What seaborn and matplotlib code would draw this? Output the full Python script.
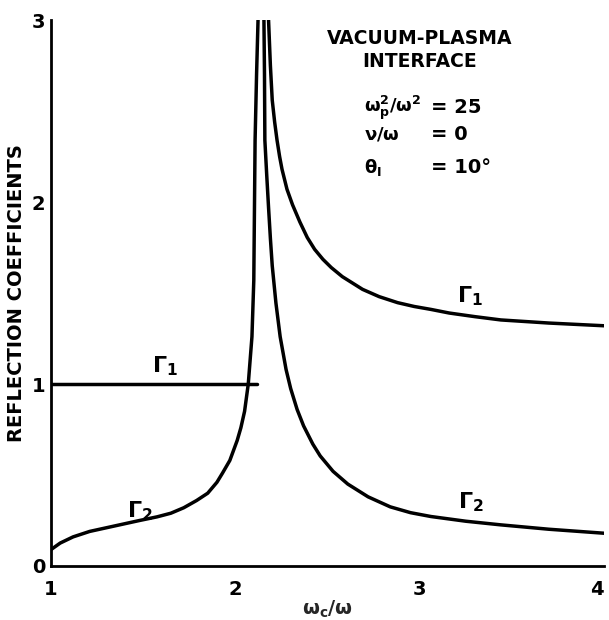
import matplotlib
matplotlib.use("Agg")
import matplotlib.pyplot as plt
import seaborn as sns
import pandas as pd

# ---- data ----
g1_flat_x = [1.0, 2.12]
g1_flat_y = [1.0, 1.0]

g2_left_x = [1.0, 1.05, 1.12, 1.21, 1.30, 1.39, 1.48, 1.575, 1.65, 1.72, 1.79, 1.85, 1.90,
             1.93, 1.97, 2.01, 2.03, 2.05, 2.07, 2.09, 2.10, 2.107, 2.115, 2.123]
g2_left_y = [0.09, 0.126, 0.16, 0.19, 0.21, 0.23, 0.25, 0.27, 0.29, 0.32, 0.36, 0.40, 0.46,
             0.51, 0.58, 0.69, 0.76, 0.85, 1.0, 1.26, 1.57, 2.34, 2.7, 3.0]

g2_right_x = [2.155, 2.158, 2.16, 2.17, 2.18, 2.19, 2.20, 2.22, 2.243, 2.275, 2.30, 2.335,
              2.37, 2.42, 2.46, 2.53, 2.61, 2.72, 2.84, 2.95, 3.06, 3.25, 3.44, 3.70, 4.0]
g2_right_y = [3.0, 2.7, 2.34, 2.15, 1.97, 1.80, 1.65, 1.445, 1.26, 1.08, 0.975, 0.86,
              0.77, 0.67, 0.605, 0.52, 0.45, 0.38, 0.325, 0.293, 0.272, 0.246, 0.226, 0.202, 0.18]

g1_right_x = [2.18, 2.19, 2.20, 2.213, 2.226, 2.24, 2.253, 2.28, 2.31, 2.35, 2.39, 2.43, 2.475,
              2.52, 2.58, 2.69, 2.78, 2.88, 2.97, 3.06, 3.16, 3.30, 3.44, 3.70, 4.0]
g1_right_y = [3.0, 2.75, 2.56, 2.44, 2.34, 2.25, 2.18, 2.07, 1.985, 1.89, 1.805, 1.74, 1.685,
              1.64, 1.59, 1.52, 1.48, 1.447, 1.426, 1.41, 1.39, 1.37, 1.352, 1.335, 1.32]

x_ticks = [1, 2, 3, 4]
y_ticks = [0, 1, 2, 3]

sns.set_theme(style="white")
plt.rcParams['font.family'] = ['DejaVu Sans']

fig = plt.figure(figsize=(6.09, 6.20), dpi=100)
ax = fig.add_axes([0.0837, 0.0871, 0.9083, 0.8806])

segments = [(g1_flat_x, g1_flat_y), (g2_left_x, g2_left_y),
            (g2_right_x, g2_right_y), (g1_right_x, g1_right_y)]
for xs, ys in segments:
    df = pd.DataFrame({"x": xs, "y": ys})
    sns.lineplot(data=df, x="x", y="y", ax=ax, color="black", linewidth=2.5,
                 sort=False, estimator=None, solid_joinstyle='round', solid_capstyle='round')

ax.set_xlim(1, 4)
ax.set_ylim(0, 3)
ax.set_xticks(x_ticks)
ax.set_yticks(y_ticks)
ax.set_xticklabels([str(t) for t in x_ticks], fontsize=14, fontweight='bold')
ax.set_yticklabels([str(t) for t in y_ticks], fontsize=14, fontweight='bold')
ax.tick_params(axis='both', direction='in', length=6, width=1.2, colors='black')
ax.tick_params(axis='x', pad=10)
ax.tick_params(axis='y', pad=4)
# keep the last x label inside the canvas
ax.get_xticklabels()[-1].set_horizontalalignment('right')

for s in ['top', 'right']:
    ax.spines[s].set_visible(False)
for s in ['left', 'bottom']:
    ax.spines[s].set_color('black')
    ax.spines[s].set_linewidth(2.0)

ax.set_xlabel(r"$\mathbf{\omega_c/\omega}$", fontsize=14, labelpad=0)
ax.set_ylabel("REFLECTION COEFFICIENTS", fontsize=14, fontweight='bold', labelpad=4,
              color='black')

# curve labels
gkw = dict(fontsize=16, ha='center', va='center', color='black')
ax.text(1.62, 1.1, r"$\mathbf{\Gamma_1}$", **gkw)
ax.text(3.27, 1.48, r"$\mathbf{\Gamma_1}$", **gkw)
ax.text(1.48, 0.30, r"$\mathbf{\Gamma_2}$", **gkw)
ax.text(3.28, 0.35, r"$\mathbf{\Gamma_2}$", **gkw)

# annotation block
tkw = dict(fontsize=13.5, fontweight='bold', ha='center', va='center', color='black')
ax.text(3.00, 2.90, "VACUUM-PLASMA", **tkw)
ax.text(3.00, 2.77, "INTERFACE", **tkw)
pkw = dict(ha='left', va='center', color='black')
ax.text(2.70, 2.52, r"$\mathbf{\omega_p^2/\omega^2}$", fontsize=13, **pkw)
ax.text(3.06, 2.52, "= 25", fontweight='bold', fontsize=14, **pkw)
ax.text(2.70, 2.37, r"$\mathbf{\nu/\omega}$", fontsize=13, **pkw)
ax.text(3.06, 2.37, "= 0", fontweight='bold', fontsize=14, **pkw)
ax.text(2.70, 2.19, r"$\mathbf{\theta_I}$", fontsize=13, **pkw)
ax.text(3.06, 2.19, "= 10°", fontweight='bold', fontsize=14, **pkw)

fig.savefig("out.png", dpi=100)
